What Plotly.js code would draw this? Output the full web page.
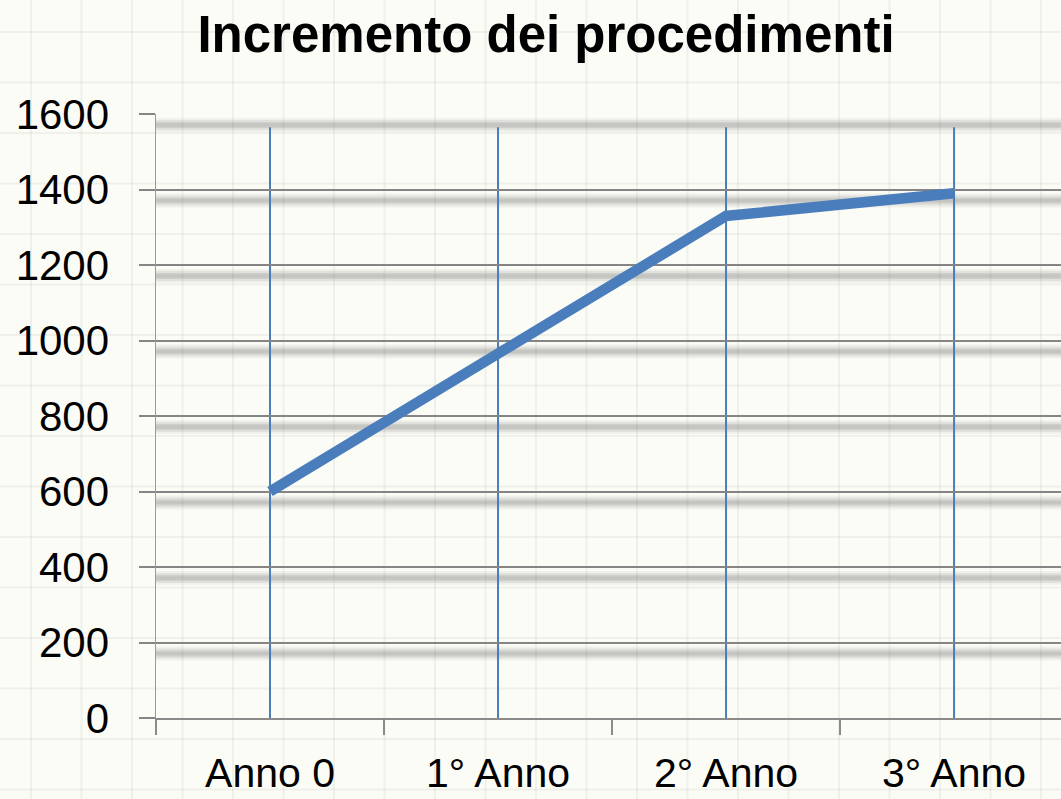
<!DOCTYPE html>
<html>
<head>
<meta charset="utf-8">
<script src="https://cdn.plot.ly/plotly-3.0.1.min.js"></script>
<style>
  html, body { margin: 0; padding: 0; }
  body {
    width: 1061px; height: 799px; overflow: hidden;
    background-color: #fcfcf7;
    background-image:
      linear-gradient(to right, rgba(120,120,110,0.09) 2px, transparent 2px),
      linear-gradient(to bottom, rgba(120,120,110,0.09) 2px, transparent 2px);
    background-size: 50.5px 50.5px;
    background-position: 30px 31px;
  }
  #chart { width: 1061px; height: 799px; }
</style>
</head>
<body>
<div id="chart"></div>
<script>
// ---- data ----
const categories = ["Anno 0", "1° Anno", "2° Anno", "3° Anno"];
const procedimenti = [600, 965, 1330, 1390];
const yTickValues = [0, 200, 400, 600, 800, 1000, 1200, 1400, 1600];
const chartTitle = "Incremento dei procedimenti";

// ---- style ----
const BLUE = "#4a7dbb";
const GRID = "#858585";
const FONT = "Liberation Sans, Arial, sans-serif";
const DROP_TOP = 1565;

const shapes = [];
// blurred shadow beneath each horizontal gridline
yTickValues.filter(v => v > 0).forEach(v => {
  [[-4, -18, 0.08], [-6, -16, 0.12], [-8, -14, 0.15], [-9.5, -12.5, 0.10]].forEach(([a, b, op]) => {
    shapes.push({
      type: "rect", layer: "below",
      xref: "paper", x0: 0, x1: 1,
      yref: "y", ysizemode: "pixel", yanchor: v, y0: a, y1: b,
      fillcolor: "#6e6e6e", opacity: op, line: { width: 0 }
    });
  });
});
// vertical blue lines at each category
categories.forEach(c => {
  shapes.push({
    type: "line", layer: "below",
    xref: "x", x0: c, x1: c,
    yref: "y", y0: 0, y1: DROP_TOP,
    line: { color: BLUE, width: 2 }
  });
});

const trace = {
  type: "scatter", mode: "lines",
  x: categories, y: procedimenti,
  line: { color: BLUE, width: 10.5 },
  hoverinfo: "skip"
};

const layout = {
  width: 1061, height: 799,
  paper_bgcolor: "rgba(0,0,0,0)",
  plot_bgcolor: "rgba(0,0,0,0)",
  margin: { l: 156, r: 0, t: 114, b: 81, pad: 0 },
  showlegend: false,
  font: { family: FONT, color: "#000" },
  title: {
    text: "<b>" + chartTitle + "</b>",
    font: { family: FONT, size: 51, color: "#000" },
    x: 0.5146, xref: "container", xanchor: "center",
    y: 0.957, yref: "container", yanchor: "middle"
  },
  xaxis: {
    type: "category",
    range: [-0.5, 3.469],
    showgrid: false, zeroline: false,
    showline: true, linecolor: "#8a8a8a", linewidth: 2,
    ticks: "outside", tickson: "boundaries", ticklen: 15, tickwidth: 1.5, tickcolor: "#8a8a8a",
    tickfont: { family: FONT, size: 41, color: "#000" },
    ticklabelstandoff: 18
  },
  yaxis: {
    range: [0, 1600],
    tickvals: yTickValues,
    showgrid: true, gridcolor: GRID, gridwidth: 2,
    zeroline: false,
    showline: true, linecolor: "#9a9a9a", linewidth: 1.5,
    ticks: "outside", ticklen: 16, tickwidth: 2, tickcolor: GRID,
    tickfont: { family: FONT, size: 42, color: "#000" },
    ticklabelstandoff: 21
  },
  shapes: shapes
};

Plotly.newPlot("chart", [trace], layout, { staticPlot: true, displayModeBar: false });
</script>
</body>
</html>
